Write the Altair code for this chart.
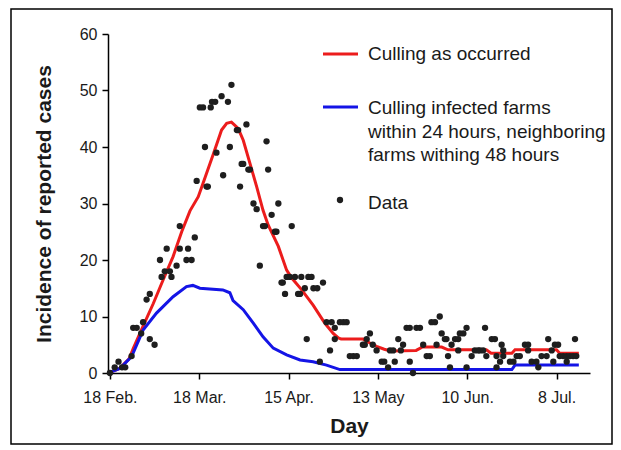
import altair as alt
import pandas as pd

# ---- data ----
pt_day = [0, 1.5, 2.7, 3.8, 4.8, 6.8,
          7.3, 8.4, 9.8, 10.4,
          11.5, 12.5, 12.5, 14,
          15.7, 16.2, 17.2, 17.8, 18.8, 19.3, 20.9,
          21.9, 21.9, 24, 24.5, 25.6, 26.6,
          27.2, 28.2, 29.2, 29.8, 30.3, 30.7,
          31.6, 32, 33, 33.4, 35, 35.5, 37, 37.6, 38.1,
          39.8, 40.2, 40.8, 41.3, 41.8, 42.8, 43.4, 43.9,
          45, 46, 47, 48, 48.6, 49.1, 49.6, 50.7, 51.7, 52.2, 52.8,
          53.8, 54.2, 54.9, 55.4, 56.4, 57, 58, 59, 59.6, 60, 61.1, 61.7, 62.2, 63.2, 63.8, 65, 65.8, 66.8,
          67.9, 69, 69.5, 70.5, 70.5, 72.1, 73.2, 74.2, 75.2, 76.3, 77.4, 79.3, 79.9, 80.5, 81.5, 82.4, 83.6,
          85.2, 86, 87.2, 87.8, 88.8, 89.3, 90.4, 91.2, 91.9, 93, 94, 94, 95, 96.1, 97.2, 98.2, 99.3, 100.3,
          100.8, 101.9, 102.4, 103.4,
          104, 105, 105.5, 106, 106.6, 107.1, 108.2, 109.2, 109.2, 109.7, 110.8, 111.8, 111.8, 113.4, 114.4, 115.4,
          116, 117, 117.6, 118, 119.7, 120.7, 121.2, 121.2, 122.3, 122.8, 123.3, 123.3, 125.4, 126.5, 127.5, 128.5,
          130.1, 131.1, 131.1, 132.2, 133.7, 134.3, 135.3, 136.9, 137.4, 138.5, 139, 139.5, 140.5, 141, 142.1,
          143.2, 143.2, 144.2, 145.2, 145.8, 146.2]
pt_cases = [0, 1, 2, 1, 1, 3,
            8, 8, 7, 9,
            13, 14, 6, 5,
            20, 17, 18, 22, 18, 17, 19,
            26, 22, 20, 22, 20, 24,
            34, 47, 47, 40, 33, 33,
            47, 48, 48, 39, 49, 35, 48, 40, 51,
            43, 43, 33, 37, 37, 44, 36, 36,
            30, 29, 19, 26, 26, 41, 36, 28, 25, 25, 30,
            16, 16, 14, 17, 17, 26, 17, 14, 14, 17, 15, 6, 17, 17, 15, 15, 2, 16,
            9, 4, 9, 8, 6, 9, 9, 9, 3, 3, 3, 5, 5, 6, 7, 5, 4,
            2, 2, 1, 4, 4, 2, 6, 4, 5, 8, 8, 2, 0, 8, 8, 5, 3, 3,
            9, 9, 5, 10,
            7, 6, 6, 3, 1, 5, 6, 6, 4, 7, 7, 8, 1, 3, 4, 4,
            4, 4, 8, 3, 6, 6, 3, 1, 2, 5, 4, 3, 2, 2, 3, 3,
            5, 5, 4, 2, 2, 1, 3, 3, 6, 4, 2, 5, 5, 3, 3,
            2, 3, 3, 3, 6, 3]

red_day = [-0.5, 3, 6, 7.3, 10.4, 13.6, 16.7, 19.8, 22.5, 25.1, 27.7, 29.2, 32.4, 35, 36.6, 38.1,
           40.2, 41.8, 43.9, 46, 48, 49.6, 52.8, 55.4, 57, 60, 63.7, 67.4, 70, 71.6, 72.5, 79.4,
           81.5, 83.6, 86, 88, 96, 98, 104, 106, 118, 119.5, 126, 127, 140, 141, 147]
red_val = [0, 0.8, 2.5, 4.3, 8.3, 12.3, 16.5, 20.6, 25, 28.7, 31.2, 33.6, 38.7, 43, 44.2, 44.4,
           43.3, 41.2, 37.1, 33, 28.8, 26.2, 22.4, 18.2, 16.8, 14.8, 12, 8.8, 7, 6.2, 6, 6,
           5.3, 4.7, 4.2, 3.9, 4.0, 4.6, 4.6, 4.1, 4.1, 3.5, 3.5, 4.1, 4.1, 3.5, 3.5]

blue_day = [-0.6, 3.1, 6.8, 10.4, 14.6, 19.8, 24, 26, 28.2, 35.4, 37.6, 38.6, 41.8, 45, 48, 51.2,
            55.4, 59.6, 63.7, 67.9, 72.1, 126, 127, 147]
blue_val = [0, 0.8, 2.9, 7.6, 10.6, 13.5, 15.3, 15.5, 15, 14.7, 14.2, 12.8, 11.2, 8.8, 6.4, 4.4,
            3.2, 2.3, 2, 1.4, 0.6, 0.6, 1.4, 1.4]

tick_days = [0, 28, 56, 84, 112, 140]
tick_labels = ["18 Feb.", "18 Mar.", "15 Apr.", "13 May", "10 Jun.", "8 Jul."]
y_ticks = [0, 10, 20, 30, 40, 50, 60]

legend_red = "Culling as occurred"
legend_blue = ["Culling infected farms", "within 24 hours, neighboring", "farms withing 48 hours"]
legend_data = "Data"

RED = "#ec1c1c"
BLUE = "#1414e6"
FONT = "Liberation Sans"

pts = pd.DataFrame({"day": pt_day, "cases": pt_cases})
red = pd.DataFrame({"day": red_day, "cases": red_val})
blue = pd.DataFrame({"day": blue_day, "cases": blue_val})

label_expr = " : ".join(
    f"datum.value == {d} ? '{l}'" for d, l in zip(tick_days, tick_labels)
) + " : ''"

x_enc = alt.X(
    "day:Q",
    scale=alt.Scale(domain=[-0.6, 150.5], nice=False, zero=False),
    axis=alt.Axis(values=tick_days, labelExpr=label_expr, title="Day", grid=False,
                  labelPadding=10, titlePadding=10),
)
y_enc = alt.Y(
    "cases:Q",
    scale=alt.Scale(domain=[0, 60], nice=False),
    axis=alt.Axis(values=y_ticks, title="Incidence of reported cases", grid=False,
                  labelPadding=5, titlePadding=25),
)

red_line = alt.Chart(red).mark_line(color=RED, strokeWidth=3).encode(x=x_enc, y=y_enc)
blue_line = alt.Chart(blue).mark_line(color=BLUE, strokeWidth=3).encode(x="day:Q", y="cases:Q")
dots = alt.Chart(pts).mark_point(filled=True, shape="circle", size=40, color="#1e1e1e", opacity=1).encode(
    x="day:Q", y="cases:Q")

one = pd.DataFrame({"a": [0]})
lg_red = alt.Chart(one).mark_rule(color=RED, strokeWidth=3).encode(
    x=alt.value(215), x2=alt.value(250), y=alt.value(20))
lg_blue = alt.Chart(one).mark_rule(color=BLUE, strokeWidth=3).encode(
    x=alt.value(215), x2=alt.value(250), y=alt.value(73))
lg_dot = alt.Chart(one).mark_point(filled=True, shape="circle", size=40, color="#1e1e1e", opacity=1).encode(
    x=alt.value(232), y=alt.value(166))


def lg_text(txt, y):
    return alt.Chart(one).mark_text(align="left", baseline="middle", font=FONT, fontSize=19,
                                    color="#1a1a1a").encode(
        x=alt.value(260), y=alt.value(y), text=alt.value(txt))


texts = [lg_text(legend_red, 20)]
for i, t in enumerate(legend_blue):
    texts.append(lg_text(t, 74 + 23.5 * i))
texts.append(lg_text(legend_data, 169))

frame = alt.Chart(one).mark_rect(fillOpacity=0, stroke="black", strokeWidth=1.5).encode(
    x=alt.value(-97), x2=alt.value(504), y=alt.value(-25), y2=alt.value(410))

chart = alt.layer(red_line, blue_line, dots, lg_red, lg_blue, lg_dot, *texts, frame).properties(
    width=482, height=339,
    autosize=alt.AutoSizeParams(type="none"),
    padding={"left": 100, "top": 26, "right": 23, "bottom": 73},
).configure_view(stroke=None).configure_axis(
    domainColor="black", domainWidth=1.5, tickColor="black", tickWidth=1.5, tickSize=6,
    labelFont=FONT, labelFontSize=16, labelColor="#1a1a1a",
    titleFont=FONT, titleFontSize=21, titleFontWeight="bold", titleColor="#1a1a1a",
)

chart.save("out.html", embed_options={"renderer": "svg", "actions": False})
